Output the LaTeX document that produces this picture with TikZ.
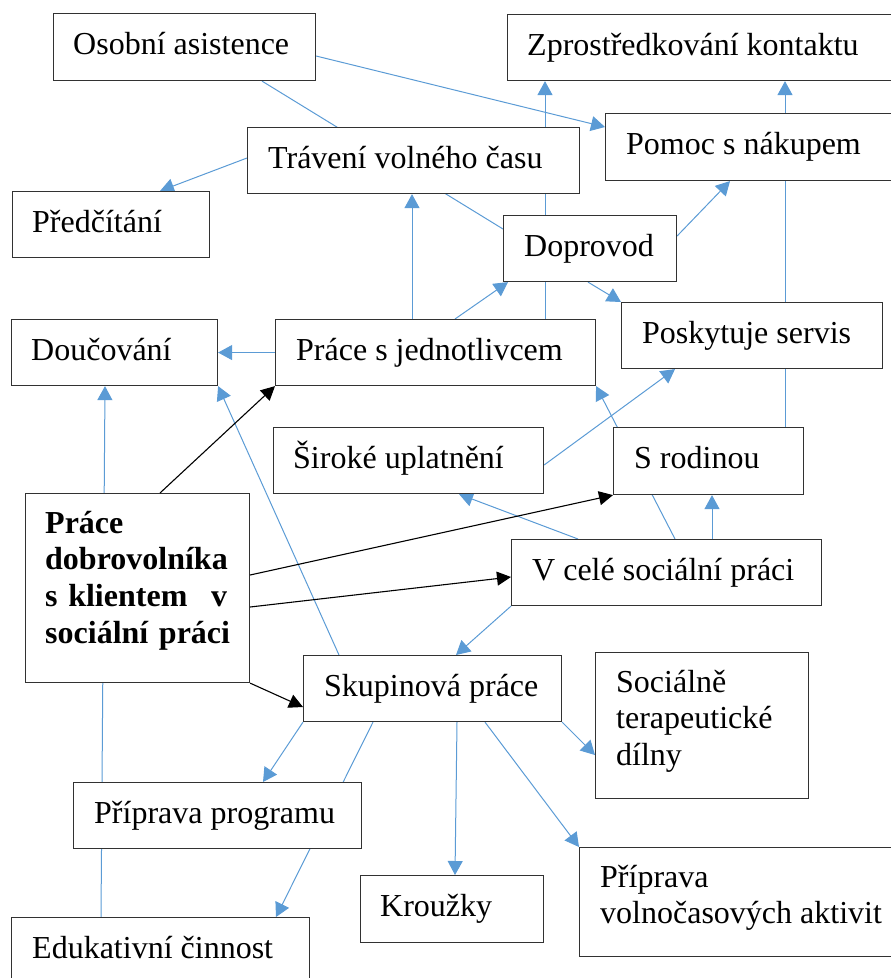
\documentclass[tikz,border=0pt]{standalone}
\usepackage{fontspec}
\setmainfont{Liberation Serif}
\usetikzlibrary{arrows.meta}
\pgfdeclarelayer{background}
\pgfsetlayers{background,main}
\definecolor{conblue}{RGB}{91,155,213}
\definecolor{boxline}{RGB}{50,50,50}
\tikzset{
  box/.style={draw=boxline, line width=1.1pt, fill=white, rectangle, inner sep=0pt, anchor=north west},
  txt/.style={anchor=base west, inner sep=0pt, align=left, font=\fontsize{32}{36.8}\selectfont},
  blu/.style={draw=conblue, line width=1pt},
  bluarr/.style={blu, -{Triangle[length=14pt,width=15pt]}},
  blkarr/.style={draw=black, line width=1.1pt, -{Triangle[length=14pt,width=14pt]}}
}
\begin{document}
\begin{tikzpicture}[x=1pt,y=-1pt]
\useasboundingbox (0,0) rectangle (891,978);
% boxes
\node[box, minimum width=262pt, minimum height=67pt] (osob) at (53,13) {};
\node[box, minimum width=393pt, minimum height=66pt] (zpro) at (507,14) {};
\node[box, minimum width=332pt, minimum height=66pt] (trav) at (247,127) {};
\node[box, minimum width=197pt, minimum height=66pt] (pred) at (12,191) {};
\node[box, minimum width=295pt, minimum height=67pt] (pomo) at (605,113) {};
\node[box, minimum width=173pt, minimum height=66pt] (dopr) at (503,215) {};
\node[box, minimum width=206pt, minimum height=66pt] (douc) at (11,319) {};
\node[box, minimum width=320pt, minimum height=66pt] (jedn) at (275,319) {};
\node[box, minimum width=261pt, minimum height=66pt] (posk) at (621,302) {};
\node[box, minimum width=270pt, minimum height=66pt] (sire) at (273,427) {};
\node[box, minimum width=190pt, minimum height=67pt] (srod) at (613,427) {};
\node[box, minimum width=224pt, minimum height=189pt] (main) at (25,493) {};
\node[box, minimum width=310pt, minimum height=66pt] (vcel) at (511,539) {};
\node[box, minimum width=258pt, minimum height=66pt] (skup) at (303,655) {};
\node[box, minimum width=213pt, minimum height=146pt] (soci) at (595,652) {};
\node[box, minimum width=288pt, minimum height=66pt] (ppro) at (73,782) {};
\node[box, minimum width=183pt, minimum height=67pt] (krou) at (360,875) {};
\node[box, minimum width=321pt, minimum height=109pt] (pvol) at (579,847) {};
\node[box, minimum width=298pt, minimum height=80pt] (eduk) at (11,917) {};
% texts
\node[txt] (osobT) at ([shift={(20,41)}]osob.north west) {Osobní asistence};
\node[txt] (zproT) at ([shift={(20,41)}]zpro.north west) {Zprostředkování kontaktu};
\node[txt] (travT) at ([shift={(21,41)}]trav.north west) {Trávení volného času};
\node[txt] (predT) at ([shift={(20,41)}]pred.north west) {Předčítání};
\node[txt] (pomoT) at ([shift={(21,41)}]pomo.north west) {Pomoc s nákupem};
\node[txt] (doprT) at ([shift={(21,41)}]dopr.north west) {Doprovod};
\node[txt] (doucT) at ([shift={(20,41)}]douc.north west) {Doučování};
\node[txt] (jednT) at ([shift={(21,41)}]jedn.north west) {Práce s jednotlivcem};
\node[txt] (poskT) at ([shift={(21,41)}]posk.north west) {Poskytuje servis};
\node[txt] (sireT) at ([shift={(20,41)}]sire.north west) {Široké uplatnění};
\node[txt] (srodT) at ([shift={(21,41)}]srod.north west) {S rodinou};
\node[txt, text width=210pt, font=\bfseries\fontsize{32}{36.8}\selectfont] (mainT) at ([shift={(20,40)}]main.north west) {Práce\\dobrovolníka\\\makebox[182pt][l]{s klientem\hfill v}\\sociální práci};
\node[txt] (vcelT) at ([shift={(21,41)}]vcel.north west) {V celé sociální práci};
\node[txt] (skupT) at ([shift={(21,41)}]skup.north west) {Skupinová práce};
\node[txt] (sociT) at ([shift={(21,113.6)}]soci.north west) {Sociálně\\terapeutické\\dílny};
\node[txt] (pproT) at ([shift={(21,41)}]ppro.north west) {Příprava programu};
\node[txt] (krouT) at ([shift={(20,41)}]krou.north west) {Kroužky};
\node[txt] (pvolT) at ([shift={(21,76.8)}]pvol.north west) {Příprava\\volnočasových aktivit};
\node[txt] (edukT) at ([shift={(21,41)}]eduk.north west) {Edukativní činnost};
% connectors
\begin{pgfonlayer}{background}
\draw[bluarr] ([yshift=-43pt]osob.north east) -- ([yshift=-14pt]pomo.north west);
\draw[blu] ([xshift=209pt]osob.south west) -- ([yshift=-14pt]dopr.north west);
\draw[bluarr] ([yshift=-31pt]trav.north west) -- ([xshift=148pt]pred.north west);
\draw[bluarr] ([xshift=137pt]jedn.north west) -- ([xshift=165pt]trav.south west);
\draw[bluarr] ([xshift=270pt]jedn.north west) -- ([xshift=38pt]zpro.south west);
\draw[bluarr] ([xshift=172pt]srod.north west) -- ([xshift=278pt]zpro.south west);
\draw[bluarr] ([yshift=-21pt]dopr.north east) -- ([xshift=125pt]pomo.south west);
\draw[bluarr] ([xshift=180pt]jedn.north west) -- ([xshift=5pt]dopr.south west);
\draw[bluarr] ([xshift=85pt]dopr.south west) -- (posk.north west);
\draw[bluarr] (jedn.west) -- (douc.east);
\draw[bluarr] ([xshift=90pt]eduk.north west) -- ([xshift=94pt]douc.south west);
\draw[bluarr] ([xshift=36pt]skup.north west) -- (douc.south east);
\draw[bluarr] ([yshift=-38pt]sire.north east) -- ([xshift=54pt]posk.south west);
\draw[bluarr] ([xshift=164pt]vcel.north west) -- (jedn.south east);
\draw[bluarr] ([xshift=67pt]vcel.north west) -- ([xshift=186pt]sire.south west);
\draw[bluarr] ([xshift=201pt]vcel.north west) -- ([xshift=99pt]srod.south west);
\draw[bluarr] (vcel.south west) -- ([xshift=153pt]skup.north west);
\draw[bluarr] (skup.south west) -- ([xshift=190pt]ppro.north west);
\draw[bluarr] ([xshift=70pt]skup.south west) -- ([xshift=265pt]eduk.north west);
\draw[bluarr] ([xshift=154pt]skup.south west) -- ([xshift=95pt]krou.north west);
\draw[bluarr] ([xshift=182pt]skup.south west) -- (pvol.north west);
\draw[bluarr] (skup.south east) -- ([yshift=-103pt]soci.north west);
\end{pgfonlayer}
\draw[blkarr] ([xshift=135pt]main.north west) -- (jedn.south west);
\draw[blkarr] ([yshift=-82pt]main.north east) -- (srod.south west);
\draw[blkarr] ([yshift=-114pt]main.north east) -- ([yshift=-38pt]vcel.north west);
\draw[blkarr] (main.south east) -- ([yshift=-52pt]skup.north west);
\end{tikzpicture}
\end{document}
